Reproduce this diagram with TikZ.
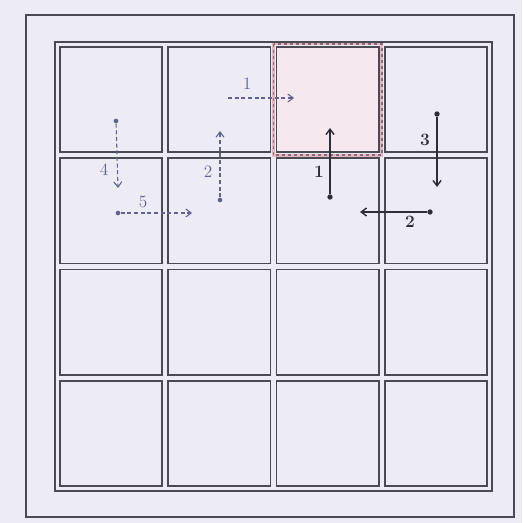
\documentclass[tikz,border=0pt]{standalone}
\usetikzlibrary{arrows.meta}
\definecolor{bg}{HTML}{EDEBF4}
\definecolor{ln}{HTML}{4A4A55}
\definecolor{pinkfill}{HTML}{F6E8EF}
\definecolor{pinkln}{HTML}{E3B8C2}
\definecolor{pinkdash}{HTML}{8A6A74}
\definecolor{dash}{HTML}{62628F}
\definecolor{solid}{HTML}{2E2E38}
\tikzset{
  cellbox/.style={draw=ln, line width=1.3pt, fill=bg},
  dasharrow/.style={draw=dash, line width=0.8pt, dash pattern=on 3pt off 2pt, -{Straight Barb[length=4pt,width=6pt]}},
  solidarrow/.style={draw=solid, line width=1.1pt, -{Straight Barb[length=4pt,width=6pt]}},
  dashlbl/.style={text=dash, font=\fontsize{13}{13}\selectfont, inner sep=0pt},
  solidlbl/.style={text=solid, font=\bfseries\fontsize{13}{13}\selectfont, inner sep=0pt},
  dotd/.style={circle, fill=dash, inner sep=0pt, minimum size=3.5pt},
  dots/.style={circle, fill=solid, inner sep=0pt, minimum size=4pt}
}
\begin{document}
\begin{tikzpicture}[x=0.75pt, y=-0.75pt]
\useasboundingbox (0,0) rectangle (522,523);
\fill[bg] (0,0) rectangle (522,523);
% outer frame
\draw[ln, line width=1.1pt] (26,15) rectangle (514,517);
% grid outer
\draw[ln, line width=1.3pt] (55,42) rectangle (492,491);
% cells
\foreach \i/\xa/\xb in {1/60/162.25, 2/168.25/270.5, 3/276.5/378.75, 4/384.75/487}{
  \foreach \j/\ya/\yb in {1/47/152.25, 2/158.25/263.5, 3/269.5/374.75, 4/380.75/486}{
    \draw[cellbox] (\xa,\ya) rectangle (\xb,\yb);
  }
}
% highlighted cell
\draw[cellbox, fill=pinkfill] (276.5,47) rectangle (378.75,152.25);
\draw[pinkln, line width=2.2pt] (273.5,44) rectangle (381.75,155.25);
\draw[pinkdash, line width=1.2pt, dash pattern=on 2pt off 2.5pt] (273.5,44) rectangle (381.75,155.25);
% dashed arrows
\coordinate (a1s) at (228,98); \coordinate (a1e) at (294,98);
\draw[dasharrow] (a1s) -- (a1e);
\node[dashlbl] (l1) at (247,84) {1};
\node[dotd] (a2s) at (220,200) {}; \coordinate (a2e) at (220,131);
\draw[dasharrow] (a2s) -- (a2e);
\node[dashlbl] (l2) at (208,172) {2};
\node[dotd] (a4s) at (116,121) {}; \coordinate (a4e) at (118,188);
\draw[dasharrow] (a4s) -- (a4e);
\node[dashlbl] (l4) at (104,170) {4};
\node[dotd] (a5s) at (118,213) {}; \coordinate (a5e) at (192,213);
\draw[dasharrow] (a5s) -- (a5e);
\node[dashlbl] (l5) at (143,202) {5};
% solid arrows
\node[dots] (b1s) at (330,197) {}; \coordinate (b1e) at (330,128);
\draw[solidarrow] (b1s) -- (b1e);
\node[solidlbl] (m1) at (319,172) {1};
\node[dots] (b3s) at (437,114) {}; \coordinate (b3e) at (437,187);
\draw[solidarrow] (b3s) -- (b3e);
\node[solidlbl] (m3) at (425,140) {3};
\node[dots] (b2s) at (430,212) {}; \coordinate (b2e) at (360,212);
\draw[solidarrow] (b2s) -- (b2e);
\node[solidlbl] (m2) at (410,222) {2};
\end{tikzpicture}
\end{document}
